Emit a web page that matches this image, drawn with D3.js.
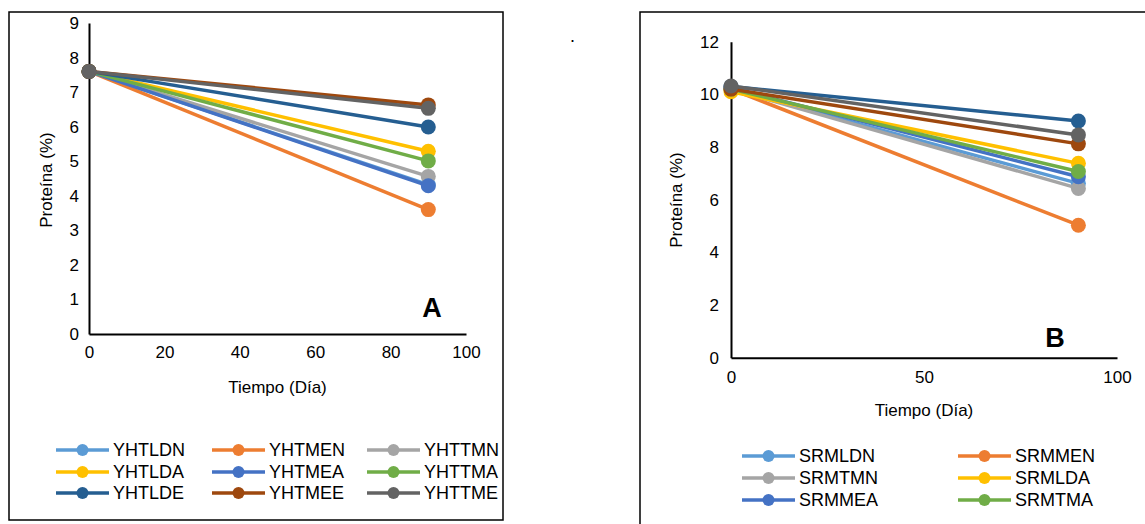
<!DOCTYPE html>
<html>
<head>
<meta charset="utf-8">
<script src="https://cdn.jsdelivr.net/npm/d3@7"></script>
<style>
  body { margin: 0; background: #fff; }
  svg { display: block; font-family: Arial, "Liberation Sans", sans-serif; }
</style>
</head>
<body>
<div class="vis-container"></div>
<script>
// panel A data
const daysA = [0, 90];
const seriesA = ['YHTLDN', 'YHTMEN', 'YHTTMN', 'YHTLDA', 'YHTMEA', 'YHTTMA', 'YHTLDE', 'YHTMEE', 'YHTTME'];
const startA = [7.6, 7.6, 7.6, 7.6, 7.6, 7.6, 7.6, 7.6, 7.6];
const endA = [4.32, 3.6, 4.56, 5.29, 4.29, 5.01, 5.99, 6.63, 6.53];
const yTicksA = [0, 1, 2, 3, 4, 5, 6, 7, 8, 9];
const xTicksA = [0, 20, 40, 60, 80, 100];

// panel B data
const daysB = [0, 90];
const seriesB = ['SRMLDN', 'SRMMEN', 'SRMTMN', 'SRMLDA', 'SRMMEA', 'SRMTMA', 'SRMLDE', 'SRMMEE', 'SRMTME'];
const startB = [10.2, 10.2, 10.2, 10.1, 10.25, 10.2, 10.3, 10.2, 10.32];
const endB = [6.62, 5.03, 6.43, 7.38, 6.87, 7.07, 8.99, 8.12, 8.46];
const yTicksB = [0, 2, 4, 6, 8, 10, 12];
const xTicksB = [0, 50, 100];
const legendShownB = 6;

const COLORS = ['#5b9bd5', '#ed7d31', '#a5a5a5', '#ffc000', '#4472c4', '#70ad47', '#255e91', '#9e480e', '#636363'];

const width = 1145;
const height = 524;

const svg = d3.select('.vis-container').append('svg')
  .attr('width', width)
  .attr('height', height);

// panel frames
svg.append('rect')
  .attr('x', 9).attr('y', 12).attr('width', 494).attr('height', 508)
  .attr('fill', 'none').attr('stroke', '#000').attr('stroke-width', 1.5);
svg.append('rect')
  .attr('x', 640).attr('y', 12).attr('width', 520).attr('height', 540)
  .attr('fill', 'none').attr('stroke', '#000').attr('stroke-width', 1.5);

svg.append('text')
  .attr('x', 570).attr('y', 42)
  .attr('font-size', 18)
  .text('.');

function buildPanel(cfg) {
  const x = d3.scaleLinear().domain([0, 100]).range([cfg.left, cfg.right]);
  const y = d3.scaleLinear().domain([0, cfg.yMax]).range([cfg.bottom, cfg.top]);

  const yAxis = svg.append('g')
    .attr('transform', `translate(${cfg.left},0)`)
    .call(d3.axisLeft(y).tickValues(cfg.yTicks).tickSize(0).tickPadding(cfg.yPad));
  const xAxis = svg.append('g')
    .attr('transform', `translate(0,${cfg.bottom})`)
    .call(d3.axisBottom(x).tickValues(cfg.xTicks).tickSize(0).tickPadding(cfg.xPad));
  [yAxis, xAxis].forEach(g => {
    g.select('.domain').attr('stroke', '#000').attr('stroke-width', 2);
    g.selectAll('text').attr('font-size', 17).attr('fill', '#000')
      .attr('font-family', 'Arial, "Liberation Sans", sans-serif');
  });

  const line = d3.line().x(d => x(d[0])).y(d => y(d[1]));
  const rows = cfg.series.map((name, i) => ({
    name,
    color: COLORS[i],
    pts: [[cfg.days[0], cfg.start[i]], [cfg.days[1], cfg.end[i]]]
  }));

  const groups = svg.selectAll(`.series-${cfg.id}`)
    .data(rows)
    .enter().append('g')
      .attr('class', `series-${cfg.id}`);
  groups.append('path')
    .attr('d', d => line(d.pts))
    .attr('fill', 'none')
    .attr('stroke', d => d.color)
    .attr('stroke-width', 3.5);
  groups.selectAll('circle')
    .data(d => d.pts.map(p => ({p, color: d.color})))
    .enter().append('circle')
      .attr('cx', d => x(d.p[0]))
      .attr('cy', d => y(d.p[1]))
      .attr('r', 7.5)
      .attr('fill', d => d.color);

  svg.append('text')
    .attr('x', cfg.letterX).attr('y', cfg.letterY)
    .attr('text-anchor', 'middle')
    .attr('font-size', 27).attr('font-weight', 'bold')
    .text(cfg.letter);

  svg.append('text')
    .attr('x', (cfg.left + cfg.right) / 2 + cfg.xTitleDx)
    .attr('y', cfg.xTitleY)
    .attr('text-anchor', 'middle')
    .attr('font-size', 17)
    .text('Tiempo (Día)');
  svg.append('text')
    .attr('transform', `translate(${cfg.yTitleX},${cfg.yTitleY}) rotate(-90)`)
    .attr('text-anchor', 'middle')
    .attr('font-size', 17)
    .text('Proteína (%)');

  // legend
  const legendRows = rows.slice(0, cfg.legendCount);
  const leg = svg.selectAll(`.legend-${cfg.id}`)
    .data(legendRows)
    .enter().append('g')
      .attr('class', `legend-${cfg.id}`)
      .attr('transform', (d, i) => `translate(${cfg.legX[i % cfg.legX.length]},${cfg.legY[Math.floor(i / cfg.legX.length)]})`);
  leg.append('line')
    .attr('x1', 0).attr('x2', 53)
    .attr('stroke', d => d.color)
    .attr('stroke-width', 3.5);
  leg.append('circle')
    .attr('cx', 26.5).attr('r', 6)
    .attr('fill', d => d.color);
  leg.append('text')
    .attr('x', 57).attr('dy', '0.35em')
    .attr('font-size', 18)
    .text(d => d.name);
}

buildPanel({
  id: 'a', letter: 'A',
  series: seriesA, days: daysA, start: startA, end: endA,
  yMax: 9, yTicks: yTicksA, xTicks: xTicksA,
  left: 89, right: 466, top: 23, bottom: 334,
  yPad: 10, xPad: 12,
  letterX: 432, letterY: 317,
  xTitleDx: 0, xTitleY: 393,
  yTitleX: 52, yTitleY: 180,
  legX: [56, 212, 367], legY: [450, 472, 493], legendCount: 9
});

buildPanel({
  id: 'b', letter: 'B',
  series: seriesB, days: daysB, start: startB, end: endB,
  yMax: 12, yTicks: yTicksB, xTicks: xTicksB,
  left: 731, right: 1117, top: 41.7, bottom: 357.7,
  yPad: 12, xPad: 13,
  letterX: 1055, letterY: 347,
  xTitleDx: 0, xTitleY: 416,
  yTitleX: 682, yTitleY: 200,
  legX: [742, 958], legY: [456, 478, 500], legendCount: legendShownB
});
</script>
</body>
</html>
